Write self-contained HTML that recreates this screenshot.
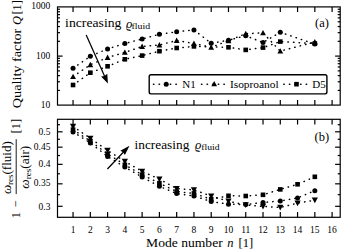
<!DOCTYPE html>
<html><head><meta charset="utf-8"><style>
html,body{margin:0;padding:0;background:#fff;overflow:hidden;}
svg{display:block;}
text{font-family:"Liberation Serif",serif;fill:#000;}
</style></head><body>
<svg width="342" height="251" viewBox="0 0 342 251">
<rect width="342" height="251" fill="#fff"/>
<g stroke="#000" stroke-width="1.2">
<rect x="57.5" y="6.9" width="282.70" height="98.20" fill="none" stroke="#000" stroke-width="1.2"/>
<line x1="73.05" y1="105.1" x2="73.05" y2="99.90"/>
<line x1="73.05" y1="6.9" x2="73.05" y2="12.10"/>
<line x1="90.32" y1="105.1" x2="90.32" y2="99.90"/>
<line x1="90.32" y1="6.9" x2="90.32" y2="12.10"/>
<line x1="107.59" y1="105.1" x2="107.59" y2="99.90"/>
<line x1="107.59" y1="6.9" x2="107.59" y2="12.10"/>
<line x1="124.86" y1="105.1" x2="124.86" y2="99.90"/>
<line x1="124.86" y1="6.9" x2="124.86" y2="12.10"/>
<line x1="142.13" y1="105.1" x2="142.13" y2="99.90"/>
<line x1="142.13" y1="6.9" x2="142.13" y2="12.10"/>
<line x1="159.40" y1="105.1" x2="159.40" y2="99.90"/>
<line x1="159.40" y1="6.9" x2="159.40" y2="12.10"/>
<line x1="176.67" y1="105.1" x2="176.67" y2="99.90"/>
<line x1="176.67" y1="6.9" x2="176.67" y2="12.10"/>
<line x1="193.94" y1="105.1" x2="193.94" y2="99.90"/>
<line x1="193.94" y1="6.9" x2="193.94" y2="12.10"/>
<line x1="211.21" y1="105.1" x2="211.21" y2="99.90"/>
<line x1="211.21" y1="6.9" x2="211.21" y2="12.10"/>
<line x1="228.48" y1="105.1" x2="228.48" y2="99.90"/>
<line x1="228.48" y1="6.9" x2="228.48" y2="12.10"/>
<line x1="245.75" y1="105.1" x2="245.75" y2="99.90"/>
<line x1="245.75" y1="6.9" x2="245.75" y2="12.10"/>
<line x1="263.02" y1="105.1" x2="263.02" y2="99.90"/>
<line x1="263.02" y1="6.9" x2="263.02" y2="12.10"/>
<line x1="280.29" y1="105.1" x2="280.29" y2="99.90"/>
<line x1="280.29" y1="6.9" x2="280.29" y2="12.10"/>
<line x1="297.56" y1="105.1" x2="297.56" y2="99.90"/>
<line x1="297.56" y1="6.9" x2="297.56" y2="12.10"/>
<line x1="314.83" y1="105.1" x2="314.83" y2="99.90"/>
<line x1="314.83" y1="6.9" x2="314.83" y2="12.10"/>
<line x1="332.10" y1="105.1" x2="332.10" y2="99.90"/>
<line x1="332.10" y1="6.9" x2="332.10" y2="12.10"/>
<rect x="57.5" y="119.3" width="282.70" height="98.00" fill="none" stroke="#000" stroke-width="1.2"/>
<line x1="73.05" y1="217.3" x2="73.05" y2="212.10"/>
<line x1="73.05" y1="119.3" x2="73.05" y2="124.50"/>
<line x1="90.32" y1="217.3" x2="90.32" y2="212.10"/>
<line x1="90.32" y1="119.3" x2="90.32" y2="124.50"/>
<line x1="107.59" y1="217.3" x2="107.59" y2="212.10"/>
<line x1="107.59" y1="119.3" x2="107.59" y2="124.50"/>
<line x1="124.86" y1="217.3" x2="124.86" y2="212.10"/>
<line x1="124.86" y1="119.3" x2="124.86" y2="124.50"/>
<line x1="142.13" y1="217.3" x2="142.13" y2="212.10"/>
<line x1="142.13" y1="119.3" x2="142.13" y2="124.50"/>
<line x1="159.40" y1="217.3" x2="159.40" y2="212.10"/>
<line x1="159.40" y1="119.3" x2="159.40" y2="124.50"/>
<line x1="176.67" y1="217.3" x2="176.67" y2="212.10"/>
<line x1="176.67" y1="119.3" x2="176.67" y2="124.50"/>
<line x1="193.94" y1="217.3" x2="193.94" y2="212.10"/>
<line x1="193.94" y1="119.3" x2="193.94" y2="124.50"/>
<line x1="211.21" y1="217.3" x2="211.21" y2="212.10"/>
<line x1="211.21" y1="119.3" x2="211.21" y2="124.50"/>
<line x1="228.48" y1="217.3" x2="228.48" y2="212.10"/>
<line x1="228.48" y1="119.3" x2="228.48" y2="124.50"/>
<line x1="245.75" y1="217.3" x2="245.75" y2="212.10"/>
<line x1="245.75" y1="119.3" x2="245.75" y2="124.50"/>
<line x1="263.02" y1="217.3" x2="263.02" y2="212.10"/>
<line x1="263.02" y1="119.3" x2="263.02" y2="124.50"/>
<line x1="280.29" y1="217.3" x2="280.29" y2="212.10"/>
<line x1="280.29" y1="119.3" x2="280.29" y2="124.50"/>
<line x1="297.56" y1="217.3" x2="297.56" y2="212.10"/>
<line x1="297.56" y1="119.3" x2="297.56" y2="124.50"/>
<line x1="314.83" y1="217.3" x2="314.83" y2="212.10"/>
<line x1="314.83" y1="119.3" x2="314.83" y2="124.50"/>
<line x1="332.10" y1="217.3" x2="332.10" y2="212.10"/>
<line x1="332.10" y1="119.3" x2="332.10" y2="124.50"/>
<line x1="57.5" y1="90.42" x2="60.00" y2="90.42"/>
<line x1="340.2" y1="90.42" x2="337.70" y2="90.42"/>
<line x1="57.5" y1="81.77" x2="60.00" y2="81.77"/>
<line x1="340.2" y1="81.77" x2="337.70" y2="81.77"/>
<line x1="57.5" y1="75.64" x2="60.00" y2="75.64"/>
<line x1="340.2" y1="75.64" x2="337.70" y2="75.64"/>
<line x1="57.5" y1="70.88" x2="60.00" y2="70.88"/>
<line x1="340.2" y1="70.88" x2="337.70" y2="70.88"/>
<line x1="57.5" y1="66.99" x2="60.00" y2="66.99"/>
<line x1="340.2" y1="66.99" x2="337.70" y2="66.99"/>
<line x1="57.5" y1="63.71" x2="60.00" y2="63.71"/>
<line x1="340.2" y1="63.71" x2="337.70" y2="63.71"/>
<line x1="57.5" y1="60.86" x2="60.00" y2="60.86"/>
<line x1="340.2" y1="60.86" x2="337.70" y2="60.86"/>
<line x1="57.5" y1="58.35" x2="60.00" y2="58.35"/>
<line x1="340.2" y1="58.35" x2="337.70" y2="58.35"/>
<line x1="57.5" y1="56.10" x2="62.60" y2="56.10"/>
<line x1="340.2" y1="56.10" x2="335.10" y2="56.10"/>
<line x1="57.5" y1="41.32" x2="60.00" y2="41.32"/>
<line x1="340.2" y1="41.32" x2="337.70" y2="41.32"/>
<line x1="57.5" y1="32.67" x2="60.00" y2="32.67"/>
<line x1="340.2" y1="32.67" x2="337.70" y2="32.67"/>
<line x1="57.5" y1="26.54" x2="60.00" y2="26.54"/>
<line x1="340.2" y1="26.54" x2="337.70" y2="26.54"/>
<line x1="57.5" y1="21.78" x2="60.00" y2="21.78"/>
<line x1="340.2" y1="21.78" x2="337.70" y2="21.78"/>
<line x1="57.5" y1="17.89" x2="60.00" y2="17.89"/>
<line x1="340.2" y1="17.89" x2="337.70" y2="17.89"/>
<line x1="57.5" y1="14.61" x2="60.00" y2="14.61"/>
<line x1="340.2" y1="14.61" x2="337.70" y2="14.61"/>
<line x1="57.5" y1="11.76" x2="60.00" y2="11.76"/>
<line x1="340.2" y1="11.76" x2="337.70" y2="11.76"/>
<line x1="57.5" y1="9.25" x2="60.00" y2="9.25"/>
<line x1="340.2" y1="9.25" x2="337.70" y2="9.25"/>
<line x1="57.5" y1="206.32" x2="62.60" y2="206.32"/>
<line x1="340.2" y1="206.32" x2="335.10" y2="206.32"/>
<line x1="57.5" y1="194.64" x2="60.00" y2="194.64"/>
<line x1="340.2" y1="194.64" x2="337.70" y2="194.64"/>
<line x1="57.5" y1="183.83" x2="62.60" y2="183.83"/>
<line x1="340.2" y1="183.83" x2="335.10" y2="183.83"/>
<line x1="57.5" y1="173.77" x2="60.00" y2="173.77"/>
<line x1="340.2" y1="173.77" x2="337.70" y2="173.77"/>
<line x1="57.5" y1="164.35" x2="62.60" y2="164.35"/>
<line x1="340.2" y1="164.35" x2="335.10" y2="164.35"/>
<line x1="57.5" y1="155.51" x2="60.00" y2="155.51"/>
<line x1="340.2" y1="155.51" x2="337.70" y2="155.51"/>
<line x1="57.5" y1="147.17" x2="62.60" y2="147.17"/>
<line x1="340.2" y1="147.17" x2="335.10" y2="147.17"/>
<line x1="57.5" y1="139.28" x2="60.00" y2="139.28"/>
<line x1="340.2" y1="139.28" x2="337.70" y2="139.28"/>
<line x1="57.5" y1="131.80" x2="62.60" y2="131.80"/>
<line x1="340.2" y1="131.80" x2="335.10" y2="131.80"/>
<line x1="57.5" y1="124.68" x2="60.00" y2="124.68"/>
<line x1="340.2" y1="124.68" x2="337.70" y2="124.68"/>
</g>
<g>
<polyline fill="none" stroke="#000" stroke-width="1.5" stroke-linecap="round" stroke-dasharray="0.4 5.2" points="73.05,68.20 90.32,56.30 107.59,48.90 124.86,43.50 142.13,39.00 159.40,34.30 176.67,31.80 193.94,29.90 211.21,43.30 228.48,40.20 245.75,35.80 263.02,42.50 280.29,32.30 314.83,44.10"/>
<polyline fill="none" stroke="#000" stroke-width="1.5" stroke-linecap="round" stroke-dasharray="0.4 5.2" points="73.05,131.90 90.32,142.90 107.59,156.50 124.86,167.10 142.13,177.10 159.40,186.30 176.67,193.60 193.94,196.00 211.21,201.60 228.48,204.20 245.75,204.50 263.02,202.50 280.29,201.00 297.56,197.90 314.83,190.70"/>
<polyline fill="none" stroke="#000" stroke-width="1.5" stroke-linecap="round" stroke-dasharray="0.4 5.2" points="73.05,76.60 90.32,64.70 107.59,57.50 124.86,52.40 142.13,46.50 159.40,45.00 176.67,40.50 193.94,43.50 211.21,47.30 228.48,40.70 245.75,33.70 263.02,32.90 280.29,51.10 314.83,42.00"/>
<polyline fill="none" stroke="#000" stroke-width="1.5" stroke-linecap="round" stroke-dasharray="0.4 5.2" points="73.05,126.40 90.32,138.40 107.59,150.30 124.86,161.50 142.13,171.30 159.40,179.20 176.67,188.60 193.94,189.90 211.21,196.10 228.48,201.20 245.75,205.00 263.02,206.40 280.29,207.50 297.56,203.10 314.83,200.20"/>
<polyline fill="none" stroke="#000" stroke-width="1.5" stroke-linecap="round" stroke-dasharray="0.4 5.2" points="73.05,85.00 90.32,72.70 107.59,66.30 124.86,59.30 142.13,55.60 159.40,51.20 176.67,48.00 193.94,46.40 228.48,47.30 245.75,49.90 263.02,47.60 280.29,41.60 314.83,43.50"/>
<polyline fill="none" stroke="#000" stroke-width="1.5" stroke-linecap="round" stroke-dasharray="0.4 5.2" points="73.05,129.60 90.32,141.10 107.59,153.90 124.86,164.80 142.13,174.70 159.40,183.20 176.67,191.60 193.94,193.40 211.21,199.30 228.48,195.80 245.75,196.00 263.02,194.80 280.29,189.40 297.56,184.30 314.83,176.80"/>
</g>
<g fill="#000">
<circle cx="73.05" cy="68.20" r="2.5"/>
<path d="M73.05 73.70L75.95 79.06L70.15 79.06Z"/>
<rect x="70.75" y="82.70" width="4.6" height="4.6"/>
<circle cx="90.32" cy="56.30" r="2.5"/>
<path d="M90.32 61.80L93.22 67.17L87.42 67.17Z"/>
<rect x="88.02" y="70.40" width="4.6" height="4.6"/>
<circle cx="107.59" cy="48.90" r="2.5"/>
<path d="M107.59 54.60L110.49 59.97L104.69 59.97Z"/>
<rect x="105.29" y="64.00" width="4.6" height="4.6"/>
<circle cx="124.86" cy="43.50" r="2.5"/>
<path d="M124.86 49.50L127.76 54.86L121.96 54.86Z"/>
<rect x="122.56" y="57.00" width="4.6" height="4.6"/>
<circle cx="142.13" cy="39.00" r="2.5"/>
<path d="M142.13 43.60L145.03 48.97L139.23 48.97Z"/>
<rect x="139.83" y="53.30" width="4.6" height="4.6"/>
<circle cx="159.40" cy="34.30" r="2.5"/>
<path d="M159.40 42.10L162.30 47.47L156.50 47.47Z"/>
<rect x="157.10" y="48.90" width="4.6" height="4.6"/>
<circle cx="176.67" cy="31.80" r="2.5"/>
<path d="M176.67 37.60L179.57 42.97L173.77 42.97Z"/>
<rect x="174.37" y="45.70" width="4.6" height="4.6"/>
<circle cx="193.94" cy="29.90" r="2.5"/>
<path d="M193.94 40.60L196.84 45.97L191.04 45.97Z"/>
<rect x="191.64" y="44.10" width="4.6" height="4.6"/>
<circle cx="211.21" cy="43.30" r="2.5"/>
<path d="M211.21 44.40L214.11 49.77L208.31 49.77Z"/>
<circle cx="228.48" cy="40.20" r="2.5"/>
<path d="M228.48 37.80L231.38 43.17L225.58 43.17Z"/>
<rect x="226.18" y="45.00" width="4.6" height="4.6"/>
<circle cx="245.75" cy="35.80" r="2.5"/>
<path d="M245.75 30.80L248.65 36.17L242.85 36.17Z"/>
<rect x="243.45" y="47.60" width="4.6" height="4.6"/>
<circle cx="263.02" cy="42.50" r="2.5"/>
<path d="M263.02 30.00L265.92 35.36L260.12 35.36Z"/>
<rect x="260.72" y="45.30" width="4.6" height="4.6"/>
<circle cx="280.29" cy="32.30" r="2.5"/>
<path d="M280.29 48.20L283.19 53.56L277.39 53.56Z"/>
<rect x="277.99" y="39.30" width="4.6" height="4.6"/>
<circle cx="314.83" cy="44.10" r="2.5"/>
<path d="M314.83 39.10L317.73 44.47L311.93 44.47Z"/>
<rect x="312.53" y="41.20" width="4.6" height="4.6"/>
<circle cx="73.05" cy="131.90" r="2.5"/>
<path d="M73.05 129.50L76.15 123.77L69.95 123.77Z"/>
<rect x="70.75" y="127.30" width="4.6" height="4.6"/>
<circle cx="90.32" cy="142.90" r="2.5"/>
<path d="M90.32 141.50L93.42 135.77L87.22 135.77Z"/>
<rect x="88.02" y="138.80" width="4.6" height="4.6"/>
<circle cx="107.59" cy="156.50" r="2.5"/>
<path d="M107.59 153.40L110.69 147.67L104.49 147.67Z"/>
<rect x="105.29" y="151.60" width="4.6" height="4.6"/>
<circle cx="124.86" cy="167.10" r="2.5"/>
<path d="M124.86 164.60L127.96 158.87L121.76 158.87Z"/>
<rect x="122.56" y="162.50" width="4.6" height="4.6"/>
<circle cx="142.13" cy="177.10" r="2.5"/>
<path d="M142.13 174.40L145.23 168.67L139.03 168.67Z"/>
<rect x="139.83" y="172.40" width="4.6" height="4.6"/>
<circle cx="159.40" cy="186.30" r="2.5"/>
<path d="M159.40 182.30L162.50 176.56L156.30 176.56Z"/>
<rect x="157.10" y="180.90" width="4.6" height="4.6"/>
<circle cx="176.67" cy="193.60" r="2.5"/>
<path d="M176.67 191.70L179.77 185.97L173.57 185.97Z"/>
<rect x="174.37" y="189.30" width="4.6" height="4.6"/>
<circle cx="193.94" cy="196.00" r="2.5"/>
<path d="M193.94 193.00L197.04 187.27L190.84 187.27Z"/>
<rect x="191.64" y="191.10" width="4.6" height="4.6"/>
<circle cx="211.21" cy="201.60" r="2.5"/>
<path d="M211.21 199.20L214.31 193.47L208.11 193.47Z"/>
<rect x="208.91" y="197.00" width="4.6" height="4.6"/>
<circle cx="228.48" cy="204.20" r="2.5"/>
<path d="M228.48 204.30L231.58 198.56L225.38 198.56Z"/>
<rect x="226.18" y="193.50" width="4.6" height="4.6"/>
<circle cx="245.75" cy="204.50" r="2.5"/>
<path d="M245.75 208.10L248.85 202.37L242.65 202.37Z"/>
<rect x="243.45" y="193.70" width="4.6" height="4.6"/>
<circle cx="263.02" cy="202.50" r="2.5"/>
<path d="M263.02 209.50L266.12 203.77L259.92 203.77Z"/>
<rect x="260.72" y="192.50" width="4.6" height="4.6"/>
<circle cx="280.29" cy="201.00" r="2.5"/>
<path d="M280.29 210.60L283.39 204.87L277.19 204.87Z"/>
<rect x="277.99" y="187.10" width="4.6" height="4.6"/>
<circle cx="297.56" cy="197.90" r="2.5"/>
<path d="M297.56 206.20L300.66 200.47L294.46 200.47Z"/>
<rect x="295.26" y="182.00" width="4.6" height="4.6"/>
<circle cx="314.83" cy="190.70" r="2.5"/>
<path d="M314.83 203.30L317.93 197.56L311.73 197.56Z"/>
<rect x="312.53" y="174.50" width="4.6" height="4.6"/>
</g>
<g>
<rect x="149.2" y="74.8" width="177.7" height="19.1" rx="1.8" fill="#fff" stroke="#000" stroke-width="1.4"/>
<line x1="153.5" y1="84.2" x2="178.5" y2="84.2" stroke="#000" stroke-width="1.5" stroke-linecap="round" stroke-dasharray="0.4 5.2"/>
<circle cx="166.20" cy="84.20" r="2.5"/>
<line x1="201.5" y1="84.2" x2="226.5" y2="84.2" stroke="#000" stroke-width="1.5" stroke-linecap="round" stroke-dasharray="0.4 5.2"/>
<path d="M214.20 81.00L217.10 86.37L211.30 86.37Z"/>
<line x1="283.8" y1="84.2" x2="308.8" y2="84.2" stroke="#000" stroke-width="1.5" stroke-linecap="round" stroke-dasharray="0.4 5.2"/>
<rect x="294.20" y="81.90" width="4.6" height="4.6"/>
</g>
<g>
<text x="50.3" y="9.4" font-size="9.5" text-anchor="end">1000</text>
<text x="50.3" y="59.1" font-size="9.5" text-anchor="end">100</text>
<text x="50.3" y="108.2" font-size="9.5" text-anchor="end">10</text>
<text x="50.4" y="134.70000000000002" font-size="9.5" text-anchor="end">0.5</text>
<text x="50.4" y="150.0699410793308" font-size="9.5" text-anchor="end">0.45</text>
<text x="50.4" y="167.25207336940616" font-size="9.5" text-anchor="end">0.4</text>
<text x="50.4" y="186.03156835921112" font-size="9.5" text-anchor="end">0.35</text>
<text x="50.4" y="209.8189949961341" font-size="9.5" text-anchor="end">0.3</text>
<text x="73.05" y="232.8" font-size="9.5" text-anchor="middle">1</text>
<text x="90.32" y="232.8" font-size="9.5" text-anchor="middle">2</text>
<text x="107.59" y="232.8" font-size="9.5" text-anchor="middle">3</text>
<text x="124.86" y="232.8" font-size="9.5" text-anchor="middle">4</text>
<text x="142.13" y="232.8" font-size="9.5" text-anchor="middle">5</text>
<text x="159.39999999999998" y="232.8" font-size="9.5" text-anchor="middle">6</text>
<text x="176.67000000000002" y="232.8" font-size="9.5" text-anchor="middle">7</text>
<text x="193.94" y="232.8" font-size="9.5" text-anchor="middle">8</text>
<text x="211.20999999999998" y="232.8" font-size="9.5" text-anchor="middle">9</text>
<text x="228.48000000000002" y="232.8" font-size="9.5" text-anchor="middle">10</text>
<text x="245.75" y="232.8" font-size="9.5" text-anchor="middle">11</text>
<text x="263.02" y="232.8" font-size="9.5" text-anchor="middle">12</text>
<text x="280.29" y="232.8" font-size="9.5" text-anchor="middle">13</text>
<text x="297.56" y="232.8" font-size="9.5" text-anchor="middle">14</text>
<text x="314.83" y="232.8" font-size="9.5" text-anchor="middle">15</text>
<text x="332.1" y="232.8" font-size="9.5" text-anchor="middle">16</text>
<text x="182.3" y="87.6" font-size="11">N1</text>
<text x="229.9" y="87.6" font-size="11" textLength="48.8" lengthAdjust="spacingAndGlyphs">Isoproanol</text>
<text x="312.3" y="87.6" font-size="11">D5</text>
<text x="315" y="27.3" font-size="12.5">(a)</text>
<text x="314.6" y="141.2" font-size="12.5">(b)</text>
<text x="146.1" y="247.2" font-size="12.5" textLength="76.6" lengthAdjust="spacingAndGlyphs">Mode number</text>
<text x="227.2" y="247.2" font-size="12.5" font-style="italic">n</text>
<text x="238.6" y="247.2" font-size="12.5">[1]</text>
<g transform="translate(21 108.3) rotate(-90)">
<text x="0" y="0" font-size="12.5" textLength="79.6" lengthAdjust="spacingAndGlyphs">Quality factor</text>
<text x="83.4" y="0" font-size="12.5" font-style="italic">Q</text>
<text x="93.7" y="0" font-size="12.5">[1]</text>
</g>
<text x="65.1" y="27.2" font-size="12.5" textLength="56.3" lengthAdjust="spacingAndGlyphs">increasing</text>
<text x="126.0" y="27.6" font-size="12.5" font-style="italic">ϱ</text>
<text x="131.6" y="28.7" font-size="9" textLength="18.6" lengthAdjust="spacingAndGlyphs">fluid</text>
<text x="134.6" y="149" font-size="12.5" textLength="54.7" lengthAdjust="spacingAndGlyphs">increasing</text>
<text x="195.0" y="149.2" font-size="12.5" font-style="italic">ϱ</text>
<text x="201.3" y="150.2" font-size="9" textLength="18.2" lengthAdjust="spacingAndGlyphs">fluid</text>
<g transform="translate(0 251) rotate(-90)">
<text x="32.7" y="20.4" font-size="12.5">1</text>
<text x="47" y="20.4" font-size="12.5" text-anchor="middle">−</text>
<line x1="56.9" y1="16.2" x2="111.8" y2="16.2" stroke="#000" stroke-width="0.9"/>
<text x="56.9" y="11.3" font-size="12.5" textLength="53" lengthAdjust="spacingAndGlyphs"><tspan font-style="italic">ω</tspan><tspan font-size="8.5" dy="2">res</tspan><tspan dy="-2">(fluid)</tspan></text>
<text x="62.3" y="29" font-size="12.5" textLength="43" lengthAdjust="spacingAndGlyphs"><tspan font-style="italic">ω</tspan><tspan font-size="8.5" dy="2">res</tspan><tspan dy="-2">(air)</tspan></text>
<text x="117.6" y="20.4" font-size="12.5">[1]</text>
</g>
</g>
<!-- arrows -->
<line x1="86.20" y1="34.90" x2="104.72" y2="76.38" stroke="#000" stroke-width="1.25"/><path d="M107.90 83.50L101.09 76.58L104.52 75.92L107.29 73.80Z" fill="#000"/>
<line x1="107.40" y1="169.00" x2="123.51" y2="152.01" stroke="#000" stroke-width="1.25"/><path d="M129.50 145.70L124.90 155.12L123.17 152.37L120.33 150.79Z" fill="#000"/>
</svg>
</body></html>
